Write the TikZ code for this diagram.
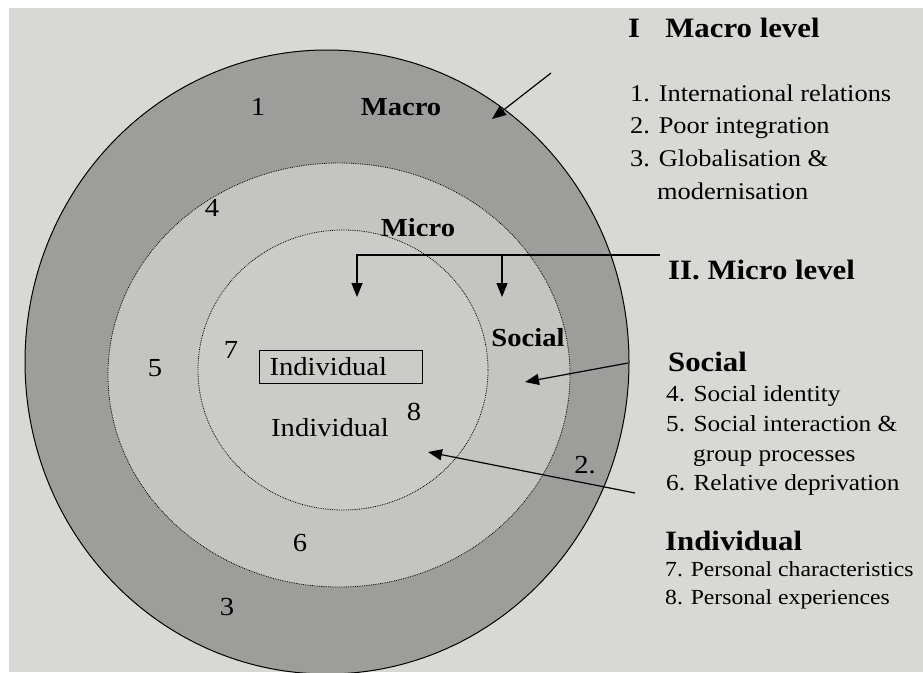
\documentclass[tikz,border=0pt]{standalone}
\usepackage{fontspec}
\setmainfont[FakeStretch=1.1]{Liberation Serif}
\usetikzlibrary{arrows.meta,positioning}
\definecolor{paperGray}{HTML}{D8D8D4}
\definecolor{ringGray}{HTML}{9D9D9B}
\definecolor{socialGray}{HTML}{C4C4C0}
\definecolor{indivGray}{HTML}{CBCBC7}

\begin{document}
\begin{tikzpicture}[x=1pt,y=-1pt,
  every node/.style={font=\fontsize{26}{30}\selectfont, inner sep=0pt},
  label bold/.style={font=\bfseries\fontsize{26}{30}\selectfont},
  head/.style={font=\bfseries\fontsize{28}{32}\selectfont, anchor=west},
  item/.style={font=\fontsize{24}{28}\selectfont, text height=18pt, text depth=6pt},
  small item/.style={item, font=\fontsize{23}{27}\selectfont},
  tiny item/.style={item, font=\fontsize{21.5}{25}\selectfont},
  pointer/.style={-{Triangle[length=14pt,width=11pt]}, black, line width=1.2pt},
  ring/.style={black, densely dotted, line width=0.8pt}]
\useasboundingbox (0,0) rectangle (923,672);
\fill[white] (0,0) rectangle (923,672);
\fill[paperGray] (9,8) rectangle (923,672);
% the three levels
\fill[ringGray] (327,362) ellipse [x radius=302, y radius=312];
\draw[black, line width=1pt] (327,362) ellipse [x radius=302, y radius=312];
\fill[socialGray] (339,375) ellipse [x radius=231, y radius=212];
\draw[ring] (339,375) ellipse [x radius=231, y radius=212];
\fill[indivGray] (343,370) ellipse [x radius=145, y radius=140];
\draw[ring] (343,370) ellipse [x radius=145, y radius=140];
% labels inside the circle
\node (n1) at (258,107) {1};
\node[label bold] (macro) at (401,107) {Macro};
\node (n4) at (212,208) {4};
\node[label bold] (micro) at (418,228) {Micro};
\node (n7) at (231,350) {7};
\node[draw=black, line width=1pt, text width=143pt, inner xsep=10pt, minimum height=33pt, align=left] (ibox) at (341,367) {Individual};
\node (n5) at (155,368) {5};
\node[label bold] (social) at (528,338) {Social};
\node (indiv) at (330,428) {Individual};
\node (n8) at (414,412) {8};
\node (n2) at (585,465) {2.};
\node (n6) at (300,543) {6};
\node (n3) at (227,607) {3};
% legend on the right
\node[head] (macroLvl) at (628,28) {I\hspace{0.9em}Macro level};
\node[item, anchor=north west] (m1) at (630,83) {1. International relations};
\node[item, below=8pt of m1.south west, anchor=north west] (m2) {2. Poor integration};
\node[item, below=8pt of m2.south west, anchor=north west] (m3) {3. Globalisation \&};
\node[item, below=9pt of m3.south west, anchor=north west, xshift=27pt] (m3b) {modernisation};
\node[head] (microLvl) at (668,270) {II. Micro level};
\node[head] (socLvl) at (668,362) {Social};
\node[small item, anchor=north west] (s4) at (666,383) {4. Social identity};
\node[small item, below=6pt of s4.south west, anchor=north west] (s5) {5. Social interaction \&};
\node[small item, below=5pt of s5.south west, anchor=north west, xshift=27pt] (s5b) {group processes};
\node[small item, below=5pt of s5b.south west, anchor=north west, xshift=-27pt] (s6) {6. Relative deprivation};
\node[head] (indLvl) at (665,541) {Individual};
\node[tiny item, anchor=north west] (i7) at (665,558) {7. Personal characteristics};
\node[tiny item, below=4pt of i7.south west, anchor=north west] (i8) {8. Personal experiences};
% pointers
\coordinate (macroFrom) at (551,73);
\coordinate (macroTip) at (492,119);
\draw[pointer] (macroFrom) -- (macroTip);
\coordinate (microFrom) at (660,255);
\coordinate (forkInd) at (357,255);
\coordinate (forkSoc) at (502,255);
\coordinate (tipInd) at (357,297);
\coordinate (tipSoc) at (502,297);
\draw[pointer] (microFrom) -- (forkInd) -- (tipInd);
\draw[pointer] (forkSoc) -- (tipSoc);
\coordinate (socFrom) at (628,363);
\coordinate (socTip) at (525,382);
\draw[pointer] (socFrom) -- (socTip);
\coordinate (indFrom) at (635,493);
\coordinate (indTip) at (428,452);
\draw[pointer] (indFrom) -- (indTip);
\end{tikzpicture}
\end{document}
